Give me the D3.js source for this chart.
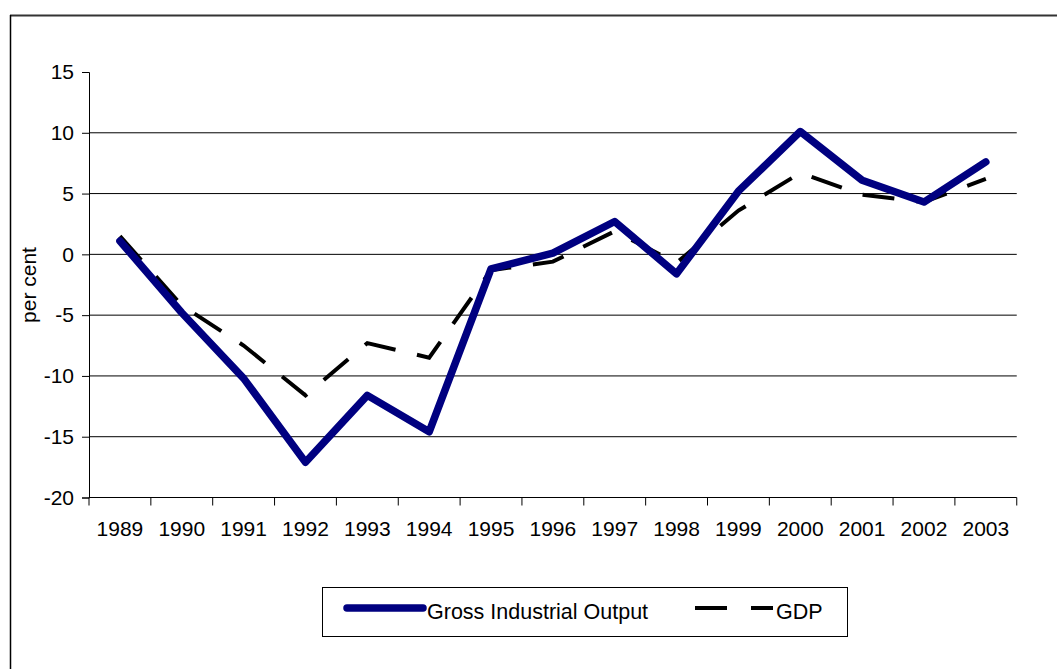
<!DOCTYPE html>
<html>
<head>
<meta charset="utf-8">
<script src="https://cdn.jsdelivr.net/npm/d3@7/dist/d3.min.js"></script>
<style>
  html, body { margin: 0; padding: 0; background: #fff; }
  svg { display: block; font-family: "Liberation Sans", Arial, sans-serif; }
</style>
</head>
<body>
<svg id="chart" width="1057" height="669"></svg>
<script>
const years = ["1989","1990","1991","1992","1993","1994","1995","1996","1997","1998","1999","2000","2001","2002","2003"];
const grossIndustrialOutput = [1.1, -4.8, -10.2, -17.1, -11.6, -14.6, -1.2, 0.1, 2.7, -1.6, 5.2, 10.1, 6.1, 4.3, 7.6];
const gdp = [1.5, -4.2, -7.5, -11.6, -7.3, -8.5, -1.3, -0.6, 1.9, -0.7, 3.6, 6.7, 4.9, 4.3, 6.2];
const yTicks = [15, 10, 5, 0, -5, -10, -15, -20];
const seriesNames = ["Gross Industrial Output", "GDP"];

(function () {
const svg = d3.select("#chart");

// outer frame
svg.append("line").attr("x1", 10).attr("x2", 1057).attr("y1", 15.5).attr("y2", 15.5)
  .attr("stroke", "#333").attr("stroke-width", 2);
svg.append("line").attr("x1", 10.5).attr("x2", 10.5).attr("y1", 15).attr("y2", 669)
  .attr("stroke", "#000").attr("stroke-width", 1.5);

const pLeft = 89, pRight = 1016.75, pTop = 72, pBottom = 497.5;
const x = d3.scaleBand().domain(years).range([pLeft, pRight]);
const y = d3.scaleLinear().domain([-20, 15]).range([pBottom, pTop]);

// gridlines
svg.append("g").selectAll("line")
  .data(yTicks.filter(t => t !== 15 && t !== -20))
  .join("line")
  .attr("x1", pLeft).attr("x2", pRight)
  .attr("y1", d => y(d)).attr("y2", d => y(d))
  .attr("stroke", "#000").attr("stroke-width", 1);

// y axis
const yAxis = d3.axisLeft(y).tickValues(yTicks).tickSize(7).tickPadding(8).tickFormat(d3.format("d"));
const gy = svg.append("g").attr("transform", `translate(${pLeft},0)`).call(yAxis);
gy.select(".domain").attr("stroke", "#000");
gy.selectAll(".tick line").attr("stroke", "#000");
gy.selectAll("text").attr("font-size", 21).attr("fill", "#000")
  .attr("font-family", "'Liberation Sans', Arial, sans-serif");
gy.selectAll(".tick text").text(d => d < 0 ? "-" + Math.abs(d) : d);

// x axis (ticks at category boundaries)
const gx = svg.append("g").attr("transform", `translate(0,${pBottom})`);
gx.append("line").attr("x1", pLeft).attr("x2", pRight).attr("y1", 0).attr("y2", 0).attr("stroke", "#000");
const boundaries = years.map(yv => x(yv)).concat([pRight]);
gx.selectAll("line.tk").data(boundaries).join("line").attr("class", "tk")
  .attr("x1", d => d).attr("x2", d => d).attr("y1", 0).attr("y2", 8).attr("stroke", "#000");
gx.selectAll("text").data(years).join("text")
  .attr("x", d => x(d) + x.bandwidth() / 2).attr("y", 38)
  .attr("text-anchor", "middle").attr("font-size", 21).attr("fill", "#000")
  .text(d => d);

// y axis title
svg.append("text")
  .attr("transform", "translate(36,285) rotate(-90)")
  .attr("text-anchor", "middle").attr("font-size", 21).attr("fill", "#000")
  .text("per cent");

const line = d3.line().x((d, i) => x(years[i]) + x.bandwidth() / 2).y(d => y(d));

svg.append("path").datum(gdp)
  .attr("d", line).attr("fill", "none")
  .attr("stroke", "#000").attr("stroke-width", 4)
  .attr("stroke-dasharray", "32,22");

svg.append("path").datum(grossIndustrialOutput)
  .attr("d", line).attr("fill", "none")
  .attr("stroke", "#000080").attr("stroke-width", 7.5)
  .attr("stroke-linejoin", "round").attr("stroke-linecap", "round");

// legend
const lg = svg.append("g");
lg.append("rect").attr("x", 322.5).attr("y", 587.5).attr("width", 525).attr("height", 49)
  .attr("fill", "#fff").attr("stroke", "#000").attr("stroke-width", 1);
lg.append("line").attr("x1", 347).attr("x2", 423).attr("y1", 608).attr("y2", 608)
  .attr("stroke", "#000080").attr("stroke-width", 7.5).attr("stroke-linecap", "round");
lg.append("text").attr("x", 427).attr("y", 619).attr("font-size", 21.5).attr("fill", "#000")
  .text(seriesNames[0]);
lg.append("line").attr("x1", 695).attr("x2", 773).attr("y1", 608).attr("y2", 608)
  .attr("stroke", "#000").attr("stroke-width", 4).attr("stroke-dasharray", "32,24");
lg.append("text").attr("x", 776).attr("y", 619).attr("font-size", 21.5).attr("fill", "#000")
  .text(seriesNames[1]);
})();
</script>
</body>
</html>
